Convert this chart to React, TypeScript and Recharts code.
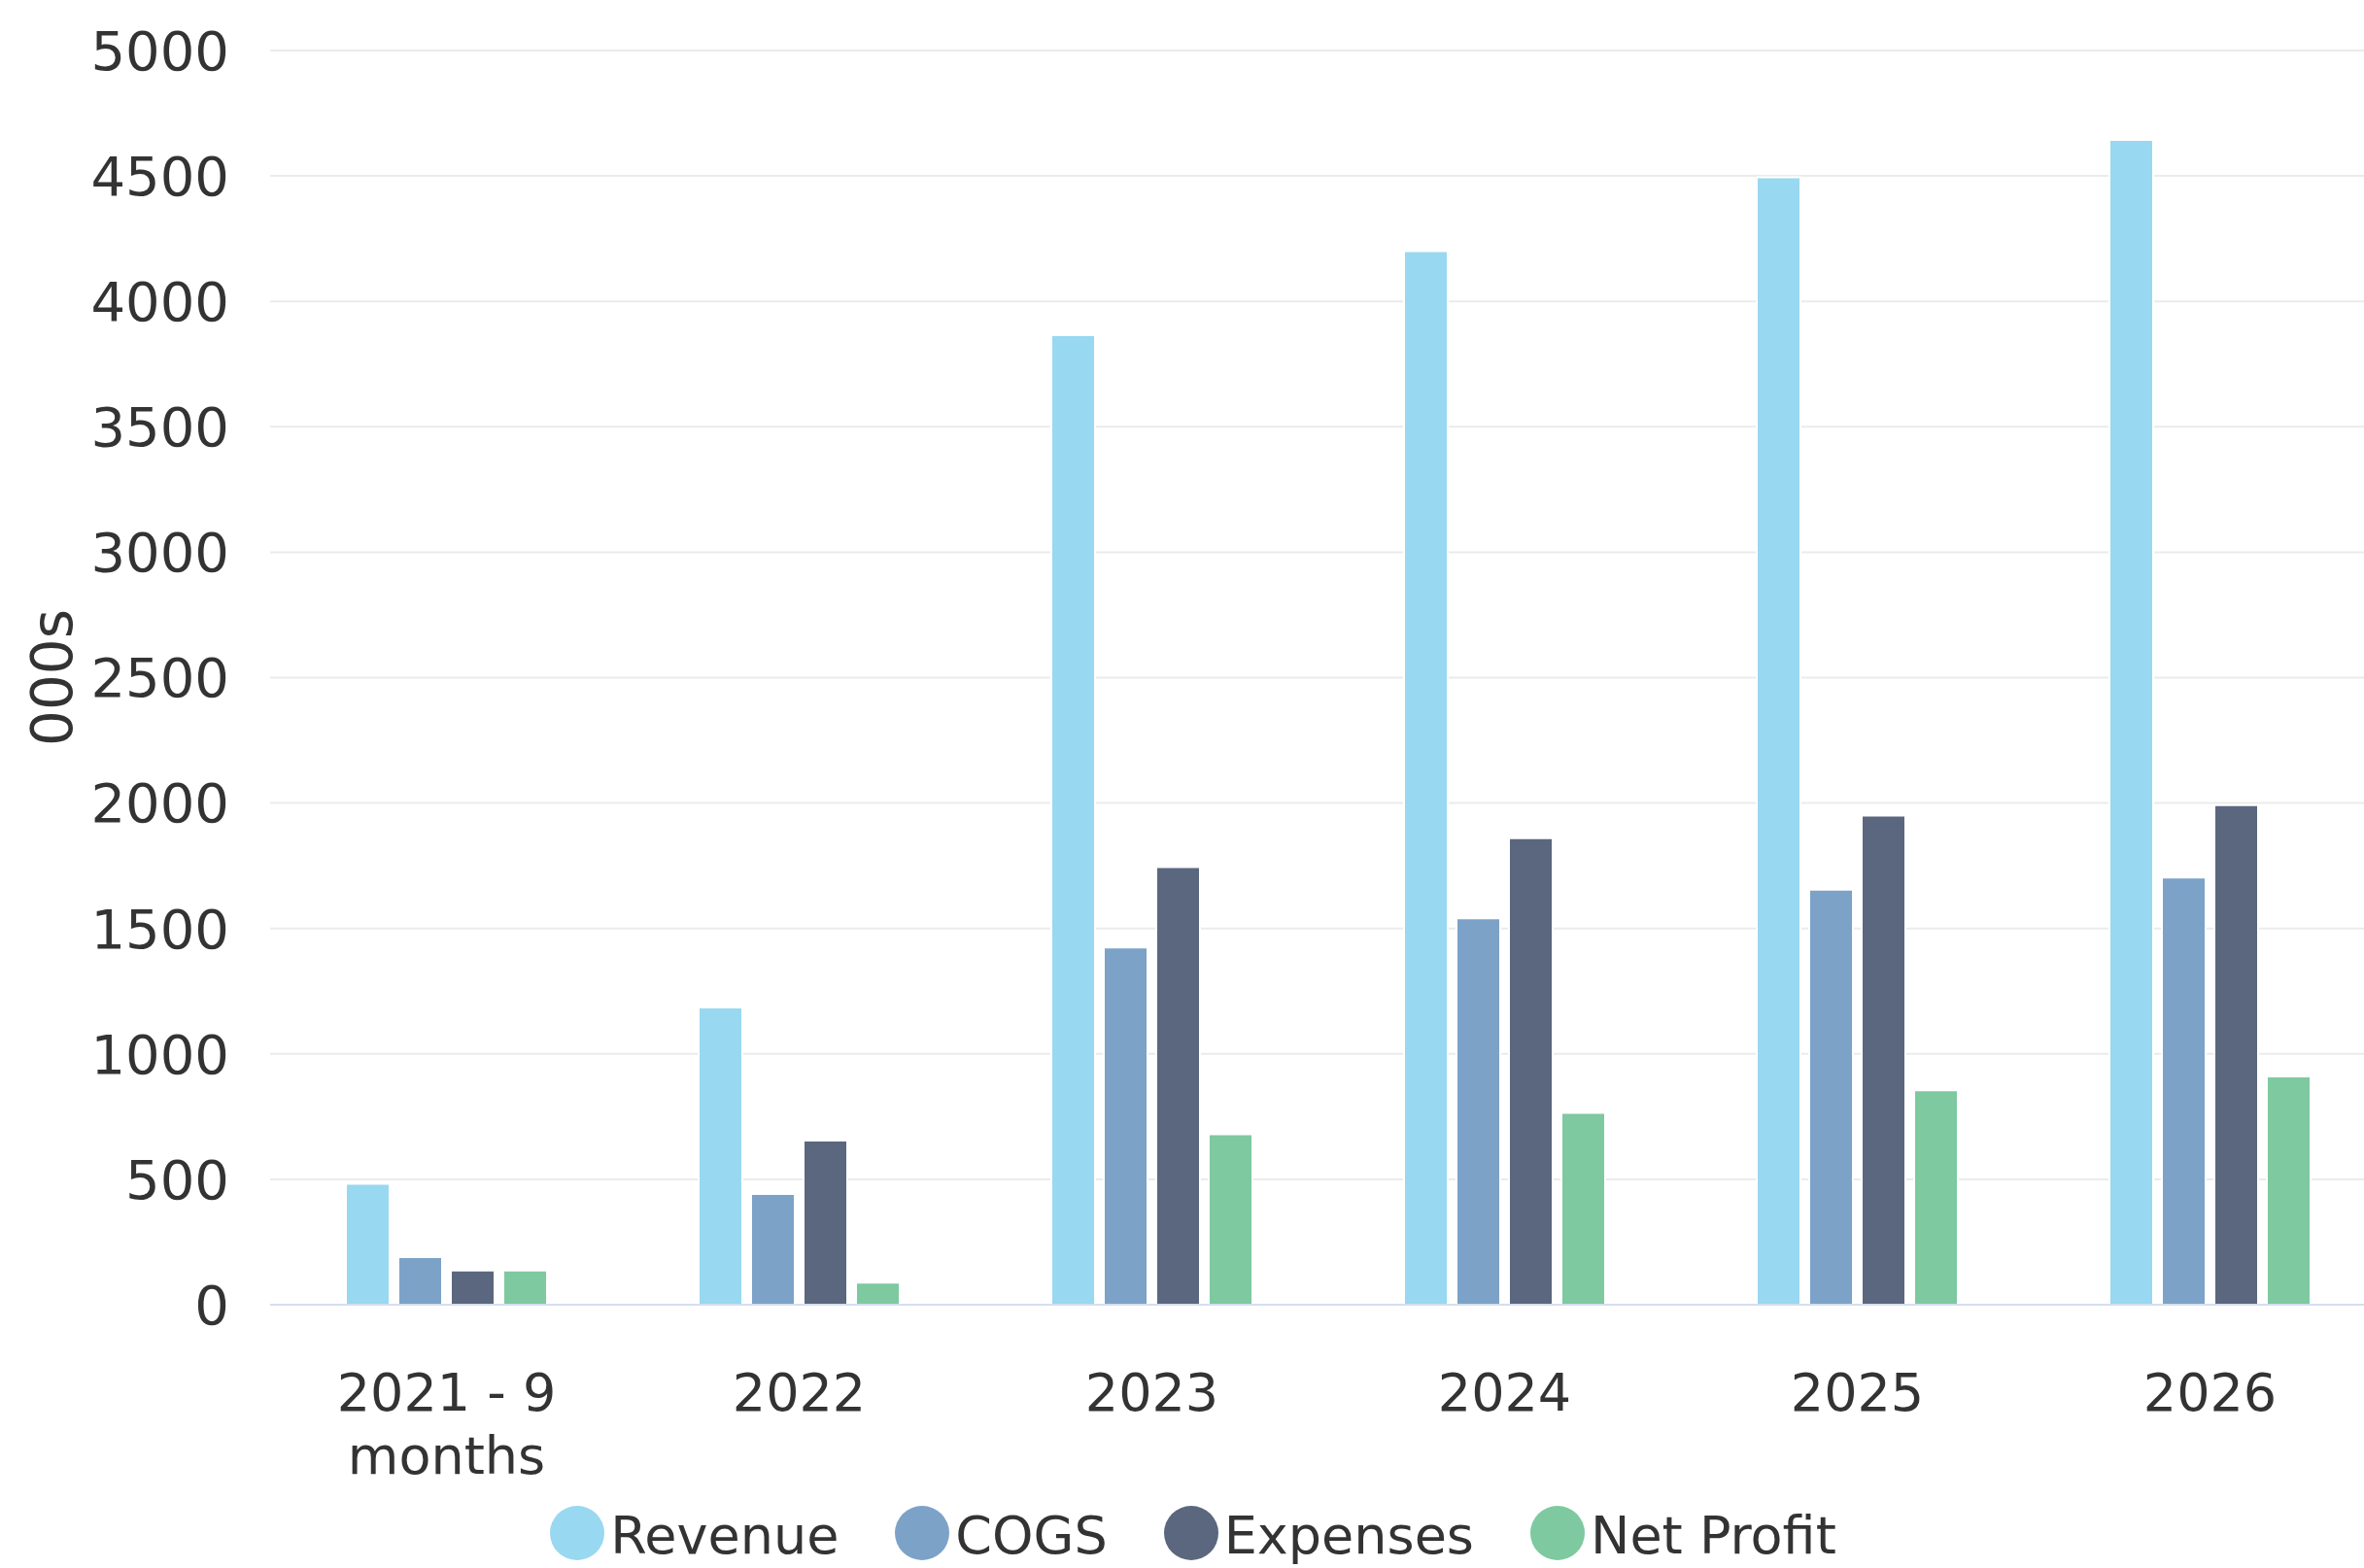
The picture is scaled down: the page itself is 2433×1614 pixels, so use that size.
import React from 'react';
import { BarChart, Bar, XAxis, YAxis, CartesianGrid, Legend } from 'recharts';

const categories = ['2021 - 9 months', '2022', '2023', '2024', '2025', '2026'];
const revenue = [482, 1185, 3865, 4200, 4495, 4644];
const cogs = [190, 442, 1424, 1540, 1655, 1703];
const expenses = [137, 655, 1745, 1860, 1950, 1992];
const netProfit = [137, 88, 680, 765, 855, 910];
const yTicks = [0, 500, 1000, 1500, 2000, 2500, 3000, 3500, 4000, 4500, 5000];

const series = [
  { key: 'revenue', name: 'Revenue', color: '#98d8f0' },
  { key: 'cogs', name: 'COGS', color: '#7ca2c8' },
  { key: 'expenses', name: 'Expenses', color: '#5b677e' },
  { key: 'netProfit', name: 'Net Profit', color: '#7ec9a0' },
];

const chartData = categories.map((cat, i) => ({
  cat,
  revenue: revenue[i],
  cogs: cogs[i],
  expenses: expenses[i],
  netProfit: netProfit[i],
}));

const FONT = '"DejaVu Sans", sans-serif';
const TEXT = '#333333';

// break long category names onto several lines
function wrapLabel(text: string, maxChars: number) {
  const words = text.split(' ');
  const lines: string[] = [];
  let cur = '';
  words.forEach((w) => {
    const next = cur ? cur + ' ' + w : w;
    if (next.length > maxChars && cur) {
      lines.push(cur);
      cur = w;
    } else {
      cur = next;
    }
  });
  if (cur) lines.push(cur);
  return lines;
}

const XTick = (props: any) => {
  const { x, y, payload } = props;
  const lines = wrapLabel(String(payload.value), 8);
  return (
    <text x={x} y={y} textAnchor="middle" fill={TEXT} fontSize={54} fontFamily={FONT}>
      {lines.map((line, i) => (
        <tspan key={i} x={x} dy={i === 0 ? 109 : 65}>
          {line}
        </tspan>
      ))}
    </text>
  );
};

const YLabel = (props: any) => {
  const { viewBox } = props;
  const cx = viewBox.x + 54;
  const cy = viewBox.y + viewBox.height / 2;
  return (
    <text
      x={cx}
      y={cy}
      transform={`rotate(-90, ${cx}, ${cy})`}
      textAnchor="middle"
      dominantBaseline="central"
      fill={TEXT}
      fontSize={58}
      fontFamily={FONT}
    >
      000s
    </text>
  );
};

const renderLegend = () => (
  <div
    style={{
      display: 'flex',
      justifyContent: 'center',
      alignItems: 'center',
      height: 62,
      fontFamily: FONT,
      fontSize: 54,
      color: TEXT,
      position: 'relative',
      top: -5,
    }}
  >
    {series.map((s, i) => (
      <div
        key={s.key}
        style={{ display: 'flex', alignItems: 'center', marginRight: i < series.length - 1 ? 58 : 0 }}
      >
        <span
          style={{
            display: 'inline-block',
            width: 56,
            height: 56,
            borderRadius: '50%',
            background: s.color,
            marginRight: 6,
          }}
        />
        <span style={{ lineHeight: '62px', position: 'relative', top: 3 }}>{s.name}</span>
      </div>
    ))}
  </div>
);

export default function App() {
  return (
    <div
      style={{
        position: 'absolute',
        left: 0,
        top: 0,
        width: 2433,
        height: 1614,
        overflow: 'hidden',
        background: '#fff',
      }}
    >
      <BarChart
        width={2456}
        height={1614}
        data={chartData}
        margin={{ top: 52, right: 0, bottom: 0, left: 0 }}
        barGap={9}
      >
        <CartesianGrid vertical={false} stroke="#ebebeb" strokeWidth={2} />
        <XAxis
          dataKey="cat"
          height={209}
          tick={<XTick />}
          tickLine={false}
          tickSize={0}
          tickMargin={0}
          axisLine={{ stroke: '#d6deef', strokeWidth: 2 }}
          interval={0}
        />
        <YAxis
          width={278}
          domain={[0, 5000]}
          ticks={yTicks}
          axisLine={false}
          tickLine={false}
          tickSize={0}
          tickMargin={42}
          tick={{ fill: TEXT, fontSize: 56, fontFamily: FONT }}
          label={<YLabel />}
        />
        <Legend verticalAlign="bottom" height={62} content={renderLegend} />
        {series.map((s) => (
          <Bar
            key={s.key}
            dataKey={s.key}
            name={s.name}
            fill={s.color}
            stroke="#ffffff"
            strokeWidth={2}
            barSize={45}
            isAnimationActive={false}
          />
        ))}
      </BarChart>
    </div>
  );
}
